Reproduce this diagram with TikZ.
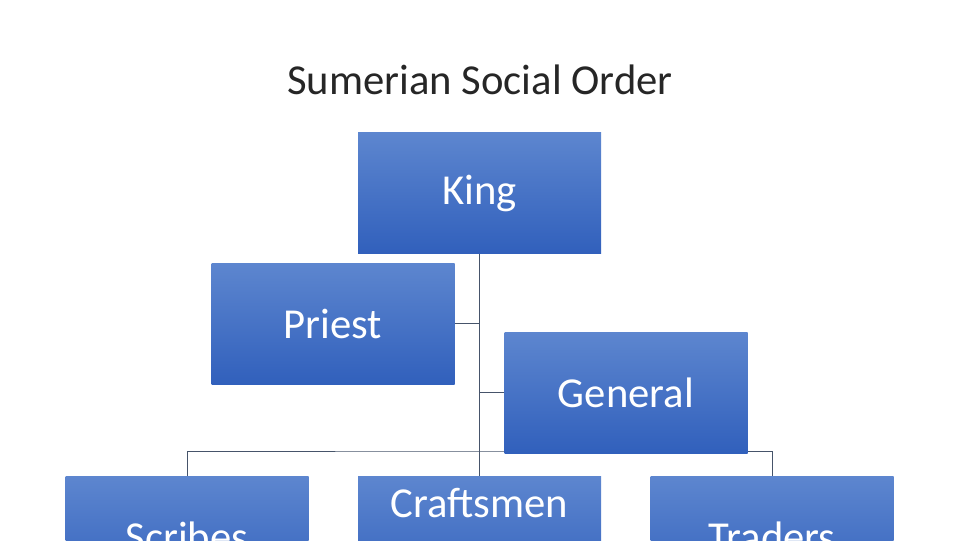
\documentclass[tikz,border=0pt]{standalone}
\usepackage{fontspec}
\setmainfont{Carlito}
\usepackage{tikz}
\usetikzlibrary{positioning, calc, shadings, backgrounds}
\definecolor{boxtop}{RGB}{93,134,207}
\definecolor{boxbottom}{RGB}{49,96,188}
\definecolor{linkgray}{RGB}{70,84,106}
\tikzset{
	titletext/.style={font=\fontsize{32}{38}\selectfont\color{black!85}}
}
\tikzset{
	linkline/.style={draw=linkgray, line width=0.75pt}
}

\begin{document}
\begin{tikzpicture}[x=0.75pt, y=-0.75pt]

      \tikzset{
        rolenode/.style={
            shape=rectangle,
            top color=boxtop,
            bottom color=boxbottom,
            draw=none,
            minimum width=182.25pt,
            minimum height=90.75pt,
            inner sep=0pt,
            text=white,
            font=\fontsize{32}{38}\selectfont
          }
      }

      \useasboundingbox (0,0) rectangle (960,540);
      \clip (0,0) rectangle (960,540);

      \node[titletext] (title) at (480,80) {Sumerian Social Order};

      \coordinate (bus) at (480,451);

      \node[rolenode] (king) at (479.5,193) {King};
      \node[rolenode] (priest) at (333,323.5) {Priest};
      \node[rolenode] (general) at (626,392.5) {General};
      \node[rolenode] (scribes) at (187,536.5) {Scribes};
      \node[rolenode, minimum height=0pt, text height=31pt, text depth=59.75pt] (craftsmen) at (479.5,536.5) {Craftsmen};
      \node[rolenode] (traders) at (772,536.5) {Traders};

      \begin{scope}[on background layer]
      \draw[linkline] (king.south) -- (craftsmen.north);
      \draw[linkline] (priest.east) -- (priest.east -| king.south);
      \draw[linkline] (general.west) -- (general.west -| king.south);
      \draw[linkline] (scribes.north) |- (bus) -| (traders.north);
      \end{scope}
    \end{tikzpicture}
\end{document}
